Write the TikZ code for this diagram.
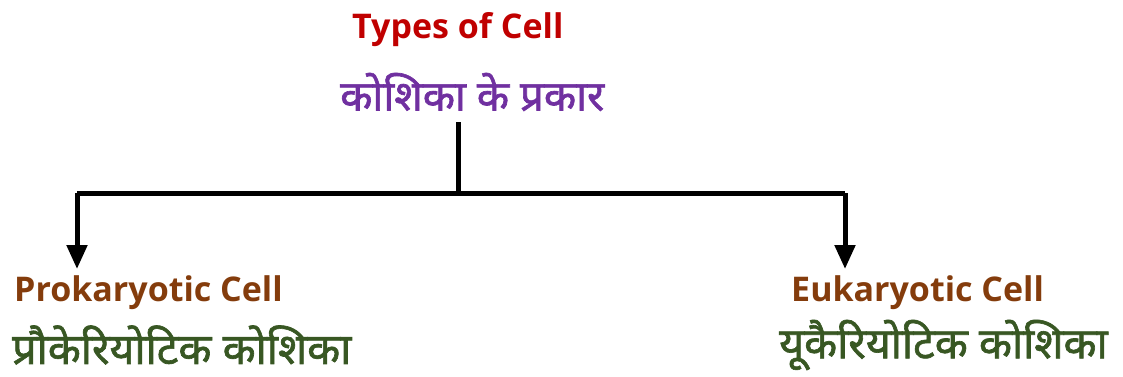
\documentclass[tikz,border=0pt]{standalone}
\usepackage{fontspec}
\setmainfont{Open Sans}
\newfontfamily\hindi[Script=Devanagari,FakeBold=1.5]{Noto Sans}
\usetikzlibrary{arrows.meta}
\definecolor{tred}{HTML}{C00000}
\definecolor{tpurple}{HTML}{7030A0}
\definecolor{tbrown}{HTML}{843C0C}
\definecolor{tgreen}{HTML}{385723}
\tikzset{
  en/.style={inner sep=0pt, anchor=west, font=\bfseries\fontsize{34}{40}\selectfont},
  hi/.style={inner sep=0pt, anchor=west, font=\hindi\fontsize{43}{50}\selectfont},
  conn/.style={line width=5pt, draw=black},
  arr/.style={conn, -{Triangle[width=20pt,length=24pt]}}
}
\begin{document}
\begin{tikzpicture}[x=1pt,y=1pt]
\useasboundingbox (0,0) rectangle (1123,376);
\node[en, text=tred] (title) at (352,346) {Types of Cell};
\node[hi, text=tpurple, font=\hindi\fontsize{42}{50}\selectfont] (titlehi) at (340,284) {कोशिका के प्रकार};
\node[en, text=tbrown] (pro) at (14,83) {Prokaryotic Cell};
\node[hi, text=tgreen] (prohi) at (12,31) {प्रौकेरियोटिक कोशिका};
\node[en, text=tbrown] (eu) at (791,83) {Eukaryotic Cell};
\node[hi, text=tgreen] (euhi) at (779,31) {यूकैरियोटिक कोशिका};
\coordinate (top) at (458,254);
\coordinate (j) at (458,183);
\coordinate (l) at (77,183);
\coordinate (r) at (845,183);
\coordinate (la) at (77,107);
\coordinate (ra) at (845,107);
\draw[conn] (top) -- (j);
\draw[conn] (l) -- (r);
\draw[arr] (l) -- (la);
\draw[arr] (r) -- (ra);
\end{tikzpicture}
\end{document}
